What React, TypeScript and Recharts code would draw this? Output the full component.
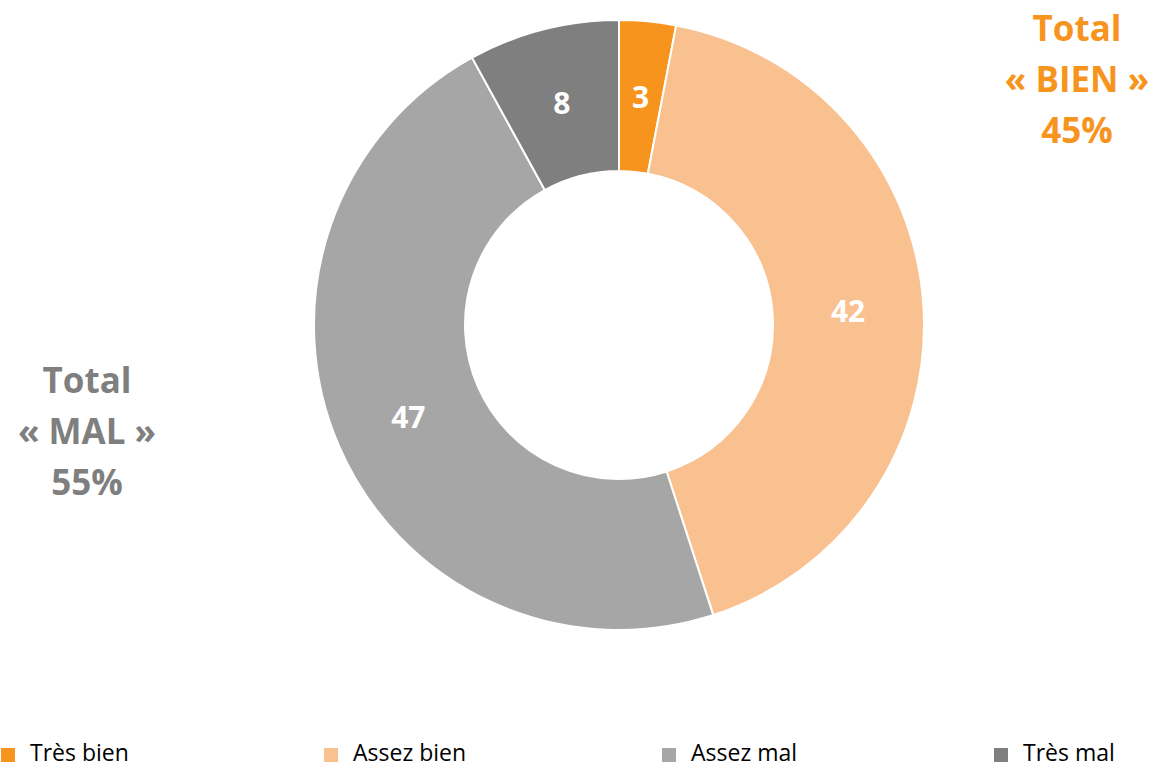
import { PieChart, Pie, Cell, Legend } from 'recharts';

// values (percentages)
const categories = ['Très bien', 'Assez bien', 'Assez mal', 'Très mal'];
const values = [3, 42, 47, 8];
const colors = ['#F7941E', '#F9C190', '#A6A6A6', '#7F7F7F'];

const totalBien = '45%';
const totalMal = '55%';

const data = categories.map((name, i) => ({ name, value: values[i] }));

const FONT = '"Open Sans", Lato, sans-serif';
const RADIAN = Math.PI / 180;

function renderLabel(props: any) {
  const { cx, cy, midAngle, innerRadius, outerRadius, value } = props;
  const r = (innerRadius + outerRadius) / 2;
  const x = cx + r * Math.cos(-midAngle * RADIAN);
  const y = cy + r * Math.sin(-midAngle * RADIAN);
  return (
    <text
      x={x}
      y={y}
      fill="#fff"
      textAnchor="middle"
      dominantBaseline="central"
      fontSize={30}
      fontWeight="bold"
      fontFamily={FONT}
    >
      {value}
    </text>
  );
}

function LegendRow() {
  const xs = [1, 324, 662, 994];
  return (
    <div style={{ position: 'relative', width: 1154, height: 31 }}>
      {data.map((d, i) => (
        <div
          key={d.name}
          style={{
            position: 'absolute',
            left: xs[i],
            top: 0,
            height: 31,
            display: 'flex',
            alignItems: 'center',
            fontFamily: FONT,
            fontSize: 23,
            color: '#000',
          }}
        >
          <span
            style={{
              display: 'inline-block',
              position: 'relative',
              top: 3,
              width: 14,
              height: 14,
              background: colors[i],
              marginRight: 15,
            }}
          />
          {d.name}
        </div>
      ))}
    </div>
  );
}

const totalStyle = {
  position: 'absolute' as const,
  fontFamily: FONT,
  fontWeight: 'bold' as const,
  fontSize: 35,
  lineHeight: '51px',
  textAlign: 'center' as const,
  width: 200,
};

export default function App() {
  return (
    <div style={{ position: 'absolute', left: 0, top: 0, width: 1154, height: 768, background: '#fff' }}>
      <PieChart width={1154} height={768} margin={{ top: 0, right: 0, bottom: 0, left: 0 }}>
        <Pie
          data={data}
          dataKey="value"
          nameKey="name"
          cx={619}
          cy={325}
          innerRadius={154}
          outerRadius={305}
          startAngle={90}
          endAngle={-270}
          stroke="#fff"
          strokeWidth={2}
          label={renderLabel}
          labelLine={false}
          isAnimationActive={false}
        >
          {data.map((d, i) => (
            <Cell key={d.name} fill={colors[i]} />
          ))}
        </Pie>
        <Legend
          verticalAlign="bottom"
          wrapperStyle={{ left: 0, bottom: 0, width: 1154, top: 736 }}
          content={() => <LegendRow />}
        />
      </PieChart>
      <div style={{ ...totalStyle, left: 977, top: 2, color: '#F7941E' }}>
        Total
        <br />« BIEN »
        <br />
        {totalBien}
      </div>
      <div style={{ ...totalStyle, left: -13, top: 354, color: '#7F7F7F' }}>
        Total
        <br />« MAL »
        <br />
        {totalMal}
      </div>
    </div>
  );
}
